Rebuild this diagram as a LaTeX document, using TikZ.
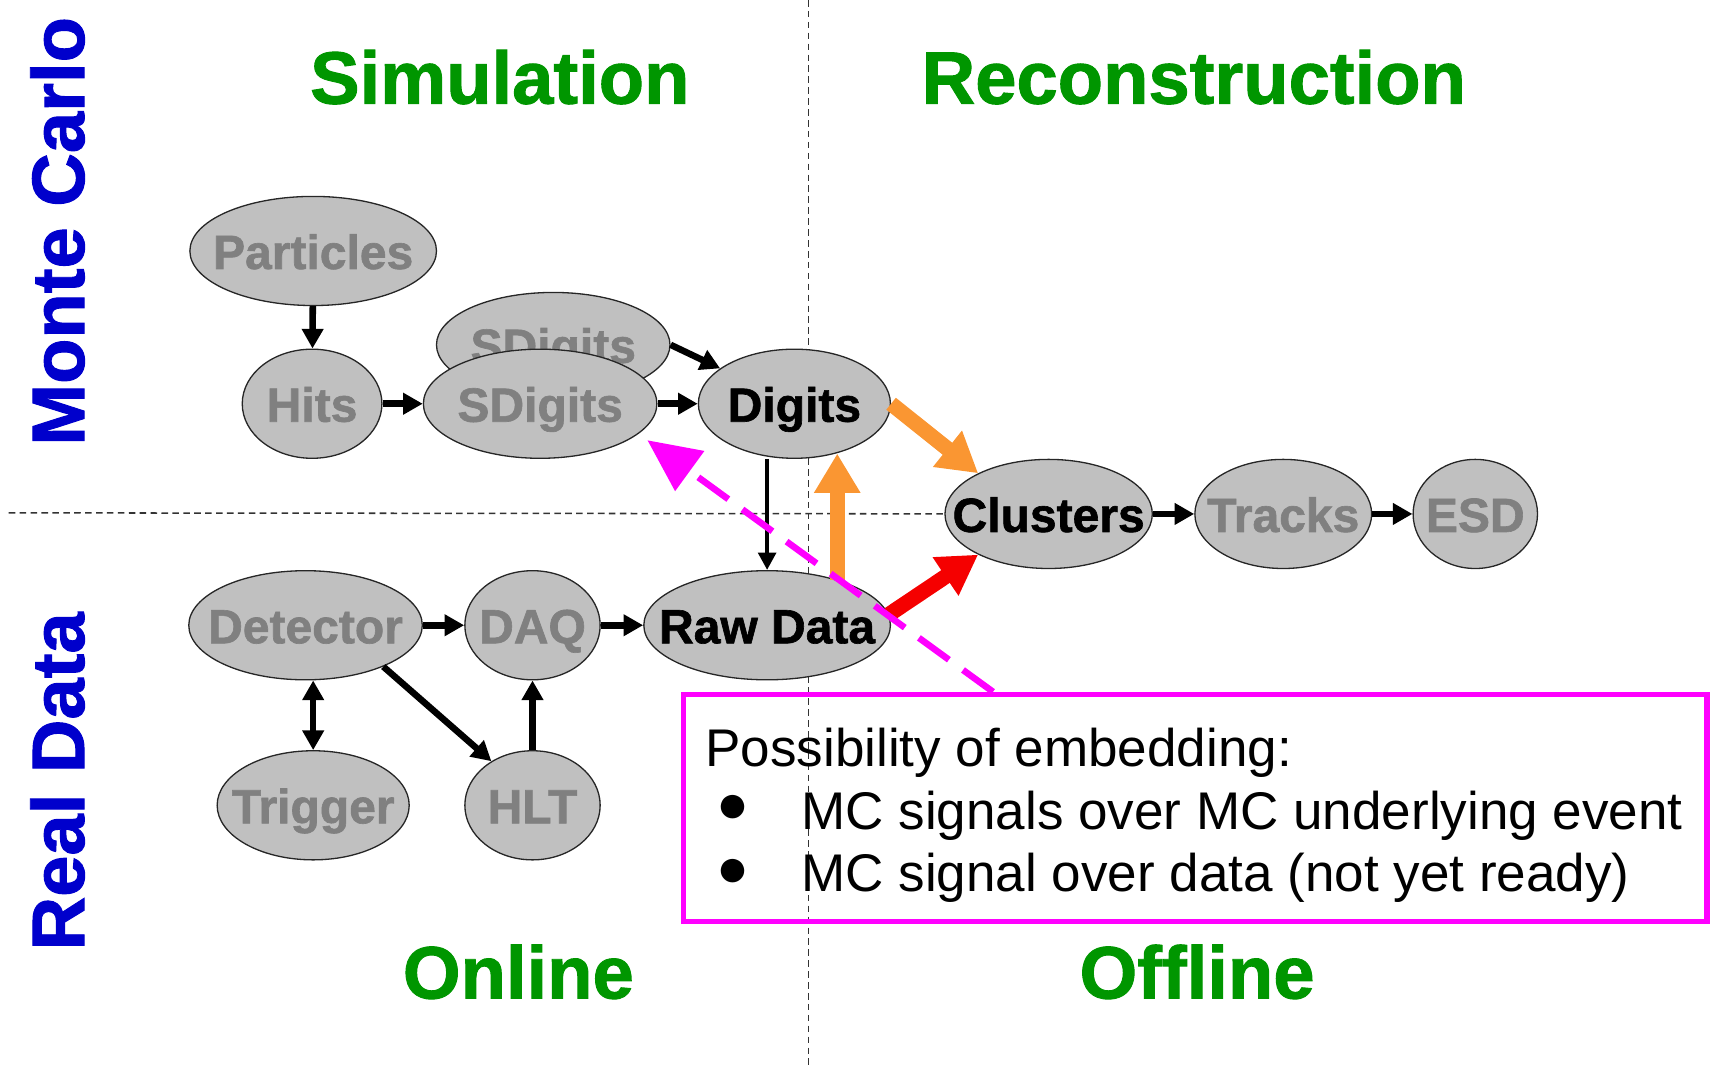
\documentclass[tikz,border=0pt]{standalone}
\usepackage{fontspec}
\setmainfont{Liberation Sans}
\newfontfamily\heavyfont{Liberation Sans Bold}[FakeBold=1.3]
\usetikzlibrary{shapes.geometric,arrows.meta,calc}
\definecolor{ovfill}{RGB}{192,192,192}
\definecolor{ovtext}{RGB}{128,128,128}
\definecolor{titlegreen}{RGB}{0,150,0}
\definecolor{sideblue}{RGB}{0,0,204}
\definecolor{arrorange}{RGB}{250,150,50}
\definecolor{arrred}{RGB}{245,0,0}
\definecolor{boxmag}{RGB}{255,0,255}
\tikzset{
  ov/.style={ellipse, draw=black!85, line width=0.6pt, fill=ovfill, inner sep=-80pt,
    text height=16.5pt, text depth=0pt,
    font=\fontsize{22}{27}\selectfont\heavyfont, text=ovtext},
  ovsz/.style 2 args={minimum width=#1pt, minimum height=#2pt},
  act/.style={text=black},
  flow/.style={line width=3pt, -{Triangle[length=9pt,width=9.5pt]}},
  thinflow/.style={line width=2pt, -{Triangle[length=8pt,width=8pt]}},
  bothflow/.style={line width=3pt, {Triangle[length=9pt,width=9.5pt]}-{Triangle[length=9pt,width=9.5pt]}},
  fatorange/.style={line width=7pt, draw=arrorange, -{Triangle[length=18pt,width=20pt]}},
  fatred/.style={line width=7pt, draw=arrred, -{Triangle[length=18pt,width=20pt]}},
  magarr/.style={line width=3pt, draw=boxmag, dash pattern=on 17pt off 8pt, -{Triangle[length=24pt,width=22pt]}},
  guide/.style={line width=0.7pt, draw=black!80, dash pattern=on 3pt off 2pt},
  titletext/.style={font=\fontsize{34}{40}\selectfont\heavyfont, text=titlegreen, anchor=base},
  sidetext/.style={font=\fontsize{34}{40}\selectfont\heavyfont, text=sideblue, anchor=base, rotate=90},
  boxtext/.style={font=\fontsize{24.3}{29}\selectfont, anchor=base west, inner sep=0pt},
  bullettext/.style={font=\fontsize{25}{26}\selectfont, anchor=base, inner sep=0pt},
}
\begin{document}
\begin{tikzpicture}[x=0.5pt,y=-0.5pt]
\useasboundingbox (0,0) rectangle (1568,977);
% guide lines
\coordinate (vtop) at (741,0);
\coordinate (vbot) at (741,977);
\coordinate (hleft) at (8,470);
\draw[guide] (vtop) -- (vbot);

% titles
\node[titletext] (simulation) at (458,95) {Simulation};
\node[titletext] (reconstruction) at (1094,95) {Reconstruction};
\node[titletext] (online) at (475,915) {Online};
\node[titletext] (offline) at (1097,915) {Offline};
\node[sidetext] (montecarlo) at (77,212) {Monte Carlo};
\node[sidetext] (realdata) at (77,716) {Real Data};

% nodes
\node[ov, ovsz={113}{50}] (particles) at (287,230) {Particles};
\node[ov, ovsz={64}{50}] (hits) at (286,370) {Hits};
\node[ov, ovsz={107}{48}] (sdb) at (507,316) {SDigits};
\node[ov, ovsz={107}{50}] (sdf) at (495,370) {SDigits};
\node[ov, act, ovsz={88}{50}] (digits) at (728,370) {Digits};
\coordinate (clc) at (961,471);
\draw[guide] (hleft) -- (clc);
\node[ov, act, ovsz={95}{50}] (clusters) at (clc) {Clusters};
\node[ov, ovsz={81}{50}] (tracks) at (1176,471) {Tracks};
\node[ov, ovsz={57}{50}] (esd) at (1352,471) {ESD};
\node[ov, ovsz={107}{50}] (detector) at (280,573) {Detector};
\node[ov, ovsz={62}{50}] (daq) at (488,573) {DAQ};
\node[ov, act, ovsz={113}{50}] (rawdata) at (703,573) {Raw Data};
\node[ov, ovsz={88}{50}] (trigger) at (287,738) {Trigger};
\node[ov, ovsz={62}{50}] (hlt) at (488,738) {HLT};

% black arrows
\draw[flow] (particles) -- (hits);
\draw[flow] (hits) -- (sdf);
\draw[flow] (sdf) -- (digits);
\draw[flow] (sdb.east) -- (digits);
\draw[thinflow] (rawdata.north |- digits.south) -- (rawdata.north);
\draw[flow] (clusters) -- (tracks);
\draw[flow] (tracks) -- (esd);
\draw[flow] (detector) -- (daq);
\draw[flow] (daq) -- (rawdata);
\draw[bothflow] (trigger.north |- detector.south) -- (trigger.north);
\draw[flow] (detector.-28) -- (hlt.133);
\draw[flow] (hlt) -- (daq);

% coloured arrows
\draw[fatorange] (digits.east) -- (clusters.150);
\draw[fatorange] (rawdata.33) -- (rawdata.33 |- digits.-50);
\draw[fatred] (rawdata.5) -- (clusters.210);

% box
\node[draw=boxmag, line width=2.5pt, minimum width=469pt, minimum height=104pt, inner sep=0pt] (box) at (1095.5,740.5) {};
\node[boxtext] (line1) at (646,702) {Possibility of embedding:};
\node[bullettext] (b1) at (672,754) {●};
\node[boxtext] (line2) at (734,760) {MC signals over MC underlying event};
\node[bullettext] (b2) at (672,812) {●};
\node[boxtext] (line3) at (734,817) {MC signal over data (not yet ready)};

\draw[magarr, shorten >=5pt] ($(box.north west)+(286,0)$) -- (sdf.-17);
\end{tikzpicture}
\end{document}
